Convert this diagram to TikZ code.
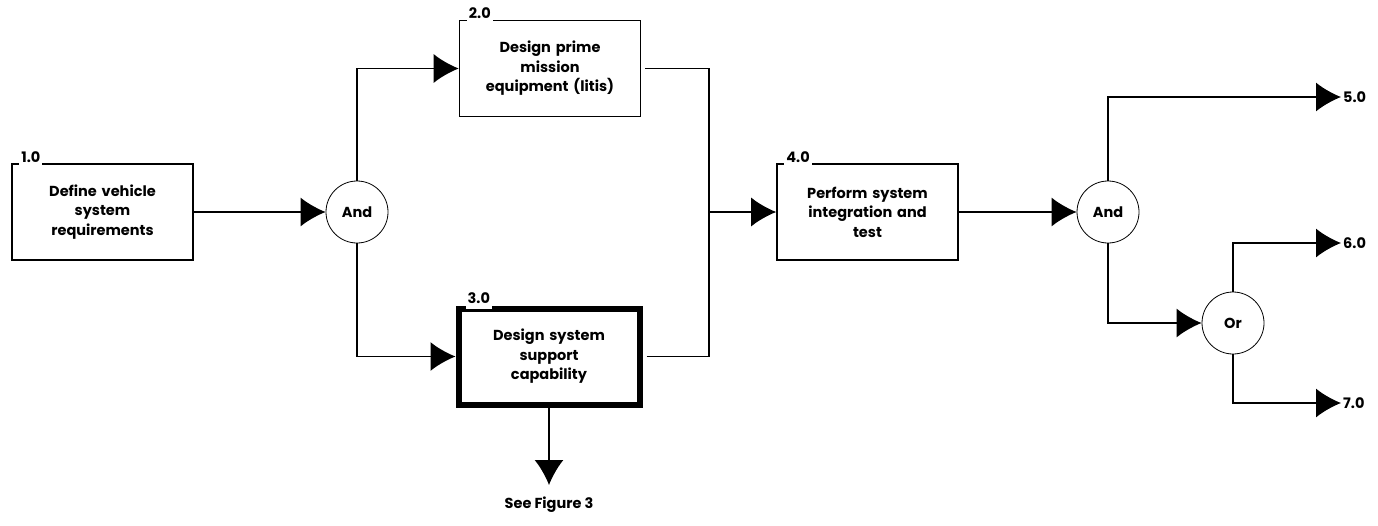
\documentclass[tikz,border=0pt]{standalone}
\usepackage{fontspec}
\setmainfont{Poppins}
\usetikzlibrary{arrows.meta}

\begin{document}
\begin{tikzpicture}[x=1pt, y=1pt,
    font=\bfseries\fontsize{14.5}{19.5}\selectfont,
    box/.style={draw, line width=1.6pt, text width=172pt, inner xsep=4.5pt,
      minimum height=96pt, align=center},
    bigbox/.style={box, line width=6pt},
    gate/.style={draw, circle, line width=0.8pt, minimum size=62pt, inner sep=0pt},
    num/.style={fill=white, anchor=south west, inner xsep=2pt, inner ysep=2.5pt, yshift=-2pt},
    flow/.style={line width=1.6pt, -{Latex[length=25pt, width=29pt]}},
    link/.style={line width=1.6pt},
    outlabel/.style={inner sep=2pt}]

  \useasboundingbox (0,0) rectangle (1378,-525);

  % Funktionsbloecke
  \node[box] (d1) at (102.5,-212) {Define vehicle\\system\\requirements};
  \node[box] (d2) at (550,-68.5) {Design prime\\mission\\equipment (litis)};
  \node[bigbox] (d3) at (549,-356.5) {Design system\\support\\capability};
  \node[box] (d4) at (867.5,-212) {Perform system\\integration and\\test};

  % Nummern auf dem oberen Rand
  \node[num] (n1) at ([xshift=8pt]d1.north west) {1.0};
  \node[num] (n2) at ([xshift=8pt]d2.north west) {2.0};
  \node[num, inner ysep=5pt, yshift=-1.5pt] (n3) at ([xshift=10pt]d3.north west) {3.0};
  \node[num] (n4) at ([xshift=8pt]d4.north west) {4.0};

  % Verknuepfungen
  \node[gate] (and1) at (357,-212) {And};
  \node[gate] (and2) at (1108,-212) {And};
  \node[gate] (or) at (1233,-323) {Or};

  % Ausgaenge
  \node[outlabel, anchor=west] (o5) at (1341,-97) {5.0};
  \node[outlabel, anchor=west] (o6) at (1341,-243) {6.0};
  \node[outlabel, anchor=west] (o7) at (1341,-403) {7.0};
  \node[outlabel] (fig) at (549,-505) {See Figure 3};
  \coordinate (merge) at (709,-212);

  % Verbindungen
  \draw[flow] (d1.east) -- (and1.west);
  \draw[flow] (and1.north) |- (d2.west);
  \draw[flow] (and1.south) |- (d3.west);
  \draw[link] ([xshift=4pt]d2.east) -| (merge);
  \draw[link] ([xshift=4pt]d3.east) -| (merge);
  \draw[flow] (merge) -- (d4.west);
  \draw[flow] (d4.east) -- (and2.west);
  \draw[flow] (and2.north) |- (o5.west);
  \draw[flow] (and2.south) |- (or.west);
  \draw[flow] (or.north) |- (o6.west);
  \draw[flow] (or.south) |- (o7.west);
  \draw[flow] (d3.south) -- ([yshift=10pt]fig.north);

\end{tikzpicture}
\end{document}
